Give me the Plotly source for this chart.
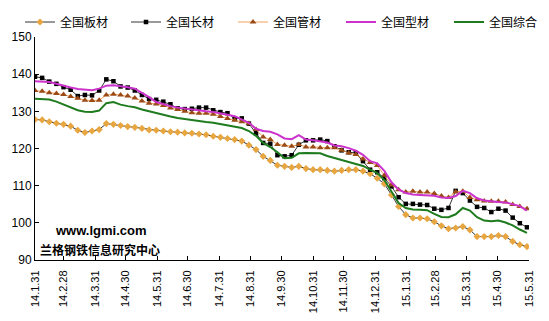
import plotly.graph_objects as go
import pandas as pd

dates = pd.date_range("2014-01-31", periods=70, freq="7D")

banca = [127.8, 127.7, 127.2, 126.8, 126.5, 126.0, 124.9, 124.3, 124.7, 125.1,
         126.7, 126.5, 126.2, 125.9, 125.7, 125.4, 125.0, 124.9, 124.7, 124.5,
         124.4, 124.2, 124.1, 123.9, 123.7, 123.3, 123.0, 122.7, 122.4, 122.0,
         120.9, 119.7, 117.9, 116.8, 115.5, 115.2, 114.9, 115.2, 114.6, 114.3,
         114.3, 114.1, 113.9, 114.1, 114.3, 114.3, 113.9, 113.2, 112.0, 110.5,
         107.5, 104.4, 102.2, 101.3, 101.3, 101.1, 100.3, 99.2, 98.4, 98.6,
         99.0, 98.1, 96.3, 96.3, 96.3, 96.6, 96.3, 95.0, 94.1, 93.6]

changcai = [139.3, 139.0, 138.0, 137.4, 136.5, 135.8, 134.1, 134.4, 134.3, 135.6,
            138.6, 138.1, 136.7, 136.4, 135.6, 134.4, 133.3, 133.1, 132.6, 131.9,
            130.8, 130.6, 130.7, 131.0, 131.0, 130.3, 129.8, 129.5, 128.0, 128.1,
            126.7, 124.1, 121.5, 121.3, 118.2, 117.9, 118.2, 121.0, 122.2, 122.2,
            122.4, 122.0, 120.6, 119.5, 119.0, 118.8, 116.6, 114.3, 113.6, 112.0,
            109.8, 106.9, 105.1, 105.1, 104.9, 104.8, 103.8, 103.5, 104.0, 108.6,
            108.0, 106.0, 104.3, 104.0, 102.9, 103.8, 103.3, 101.4, 99.9, 98.8]

guancai = [135.6, 135.4, 135.0, 134.8, 134.5, 134.0, 133.5, 133.0, 132.9, 133.0,
           134.4, 134.6, 134.4, 134.1, 133.6, 132.8, 132.2, 132.0, 131.6, 130.9,
           130.5, 130.0, 129.6, 129.5, 129.5, 129.2, 128.6, 128.1, 127.6, 127.2,
           126.7, 125.1, 123.1, 122.4, 121.1, 120.9, 120.6, 121.1, 120.4, 120.4,
           120.2, 120.2, 120.2, 119.5, 118.8, 118.4, 117.2, 116.2, 115.4, 112.8,
           110.2, 108.9, 108.3, 108.5, 108.3, 108.3, 107.9, 107.2, 106.8, 108.3,
           108.5, 106.8, 106.2, 105.9, 105.8, 105.8, 105.6, 104.9, 104.4, 103.8]

xingcai = [138.1, 138.1, 137.9, 137.4, 136.8, 136.4, 136.0, 135.8, 135.7, 136.1,
           136.9, 137.0, 136.8, 136.5, 136.1, 135.0, 133.8, 132.5, 131.9, 131.4,
           131.0, 130.7, 130.5, 130.3, 130.0, 129.8, 129.5, 129.1, 128.7, 127.7,
           126.9, 125.3, 124.7, 124.5, 123.8, 122.7, 122.5, 123.6, 122.4, 122.2,
           122.0, 121.6, 120.8, 120.6, 120.1, 119.4, 118.3, 116.6, 116.0, 114.0,
           110.9, 109.0, 108.0, 107.6, 107.5, 107.4, 107.3, 106.8, 106.7, 107.2,
           108.6, 108.0, 106.6, 106.0, 105.7, 105.6, 105.5, 105.1, 104.5, 103.3]

zonghe = [133.4, 133.4, 133.2, 132.6, 131.8, 131.2, 130.3, 129.9, 129.8, 130.2,
          132.2, 132.5, 131.8, 131.4, 131.1, 130.5, 130.0, 129.4, 128.9, 128.6,
          128.2, 127.9, 127.6, 127.4, 127.1, 126.9, 126.6, 126.2, 125.9, 125.5,
          124.7, 123.4, 121.5, 120.4, 119.0, 117.4, 117.5, 118.7, 118.8, 118.8,
          118.7, 118.0, 117.5, 116.9, 116.5, 116.0, 115.3, 114.3, 113.4, 111.5,
          108.2, 105.3, 104.0, 103.6, 103.5, 103.4, 102.4, 101.6, 101.5, 102.3,
          104.0, 103.3, 101.5, 100.6, 100.4, 100.6, 100.1, 99.3, 98.2, 97.3]

tick_dates = ["2014-01-31", "2014-02-28", "2014-03-31", "2014-04-30", "2014-05-31",
              "2014-06-30", "2014-07-31", "2014-08-31", "2014-09-30", "2014-10-31",
              "2014-11-30", "2014-12-31", "2015-01-31", "2015-02-28", "2015-03-31",
              "2015-04-30", "2015-05-31"]
tick_text = ["14.1.31", "14.2.28", "14.3.31", "14.4.30", "14.5.31", "14.6.30",
             "14.7.31", "14.8.31", "14.9.30", "14.10.31", "14.11.30", "14.12.31",
             "15.1.31", "15.2.28", "15.3.31", "15.4.30", "15.5.31"]

FONT = "Liberation Sans, Noto Sans CJK SC, sans-serif"

fig = go.Figure()
fig.add_trace(go.Scatter(x=dates, y=banca, name="全国板材", mode="lines+markers",
                         legend="legend",
                         line=dict(color="#000000", width=0.8),
                         marker=dict(symbol="diamond", size=5.5, color="#E8A640",
                                     line=dict(width=0))))
fig.add_trace(go.Scatter(x=dates, y=changcai, name="全国长材", mode="lines+markers",
                         legend="legend2",
                         line=dict(color="#000000", width=0.8),
                         marker=dict(symbol="square", size=4.5, color="#000000")))
fig.add_trace(go.Scatter(x=dates, y=guancai, name="全国管材", mode="lines+markers",
                         legend="legend3",
                         line=dict(color="#F2A45A", width=1),
                         marker=dict(symbol="triangle-up", size=6, color="#9A4A16",
                                     line=dict(width=0))))
fig.add_trace(go.Scatter(x=dates, y=xingcai, name="全国型材", mode="lines",
                         legend="legend4",
                         line=dict(color="#CC33CC", width=2)))
fig.add_trace(go.Scatter(x=dates, y=zonghe, name="全国综合", mode="lines",
                         legend="legend5",
                         line=dict(color="#1E7B1E", width=2)))

fig.add_annotation(text="<b>www.lgmi.com</b>", xref="paper", yref="paper",
                   x=(101 - 35) / 494, y=(260 - 230) / 223, showarrow=False,
                   xanchor="center", yanchor="middle",
                   font=dict(family="Liberation Sans, sans-serif", size=13, color="#000000"))
fig.add_annotation(text="<b>兰格钢铁信息研究中心</b>", xref="paper", yref="paper",
                   x=(100 - 35) / 494, y=(260 - 249) / 223, showarrow=False,
                   xanchor="center", yanchor="middle",
                   font=dict(family="Noto Sans CJK SC", size=12, color="#000000"))

legend_px = [20, 126, 233, 341, 449]
legend_common = dict(orientation="h", xref="container", yref="container",
                     xanchor="left", y=1 - 22 / 321, yanchor="middle",
                     font=dict(family="Noto Sans CJK SC", size=12, color="#000000"),
                     itemwidth=30, bgcolor="rgba(0,0,0,0)")

fig.update_layout(
    width=549, height=321,
    margin=dict(l=35, r=20, t=37, b=61, autoexpand=False),
    paper_bgcolor="white", plot_bgcolor="white",
    font=dict(family=FONT, size=12, color="#000000"),
    showlegend=True,
    legend=dict(x=legend_px[0] / 549, **legend_common),
    legend2=dict(x=legend_px[1] / 549, **legend_common),
    legend3=dict(x=legend_px[2] / 549, **legend_common),
    legend4=dict(x=legend_px[3] / 549, **legend_common),
    legend5=dict(x=legend_px[4] / 549, **legend_common),
    xaxis=dict(type="date", range=["2014-01-31", "2015-05-31"],
               tickvals=tick_dates, ticktext=tick_text, tickangle=-90,
               ticks="inside", ticklen=4, tickcolor="#000000",
               ticklabelstandoff=5,
               showline=True, linecolor="#000000", linewidth=1,
               showgrid=False, zeroline=False,
               tickfont=dict(family=FONT, size=11)),
    yaxis=dict(range=[90, 150], dtick=10, ticks="inside", ticklen=4,
               tickcolor="#000000", showline=True, linecolor="#000000",
               linewidth=1, showgrid=False, zeroline=False,
               tickfont=dict(family=FONT, size=12)),
)

fig.write_html("out.html")
